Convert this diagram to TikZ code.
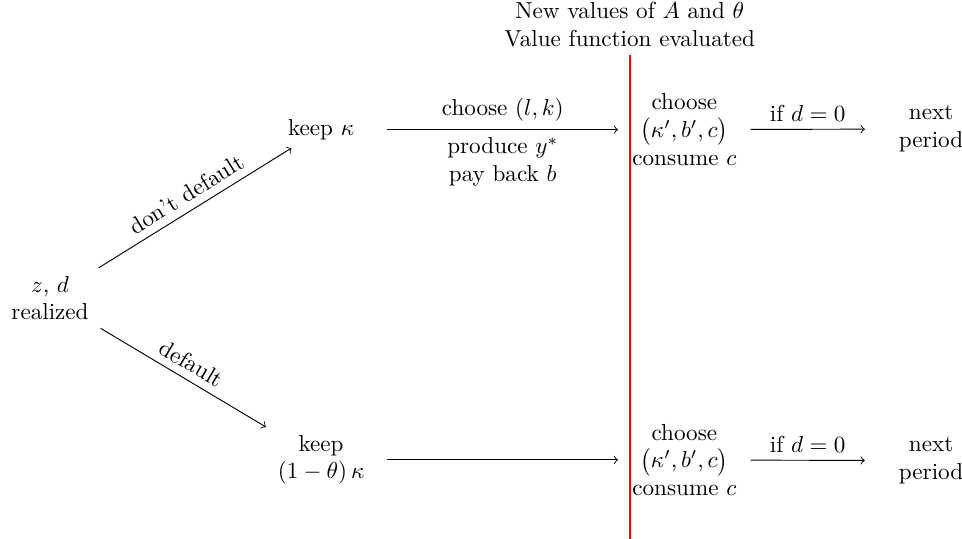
\documentclass[tikz,border=0pt]{standalone}
\usepackage{amsmath}
\tikzset{
  flow/.style={->},
  stage/.style={align=center,minimum width=2cm},
  cutline/.style={draw=red,thick},
  headlabel/.style={align=center}
}
\begin{document}
\begin{tikzpicture}
  \useasboundingbox (0,0) rectangle (14.62,8.19);

  \node[stage] (zd) at (0.76,3.66) {$z$, $d$\\realized};
  \node[stage] (keepa) at (4.88,6.22) {keep $\kappa$};
  \node[stage] (keepb) at (4.88,1.20) {keep\\$(1-\theta)\,\kappa$};
  \draw[flow] (zd) -- node[above,sloped] {don't default} (keepa);
  \draw[flow] (zd) -- node[above,sloped] {default} (keepb);

  \node[stage] (choosea) at (10.40,6.22)
    {choose\\$\bigl(\kappa',b',c\bigr)$\\consume $c$};
  \node[stage] (chooseb) at (10.40,1.20)
    {choose\\$\bigl(\kappa',b',c\bigr)$\\consume $c$};
  \draw[flow] (keepa) --
    node[above] {choose $(l,k)$}
    node[below,align=center] {produce $y^*$\\pay back $b$}
    (choosea);
  \draw[flow] (keepb) -- (chooseb);

  \node[stage] (nexta) at (14.15,6.23) {next\\period};
  \node[stage] (nextb) at (14.15,1.19) {next\\period};
  \draw[flow] (choosea) -- node[above] {if $d=0$} (nexta);
  \draw[flow] (chooseb) -- node[above] {if $d=0$} (nextb);

  % period boundary
  \node[headlabel] (evaluated) at (9.57,7.82)
    {New values of $A$ and $\theta$\\Value function evaluated};
  \coordinate (cutend) at (9.57,0);
  \draw[cutline] (evaluated) -- (cutend);
\end{tikzpicture}
\end{document}
